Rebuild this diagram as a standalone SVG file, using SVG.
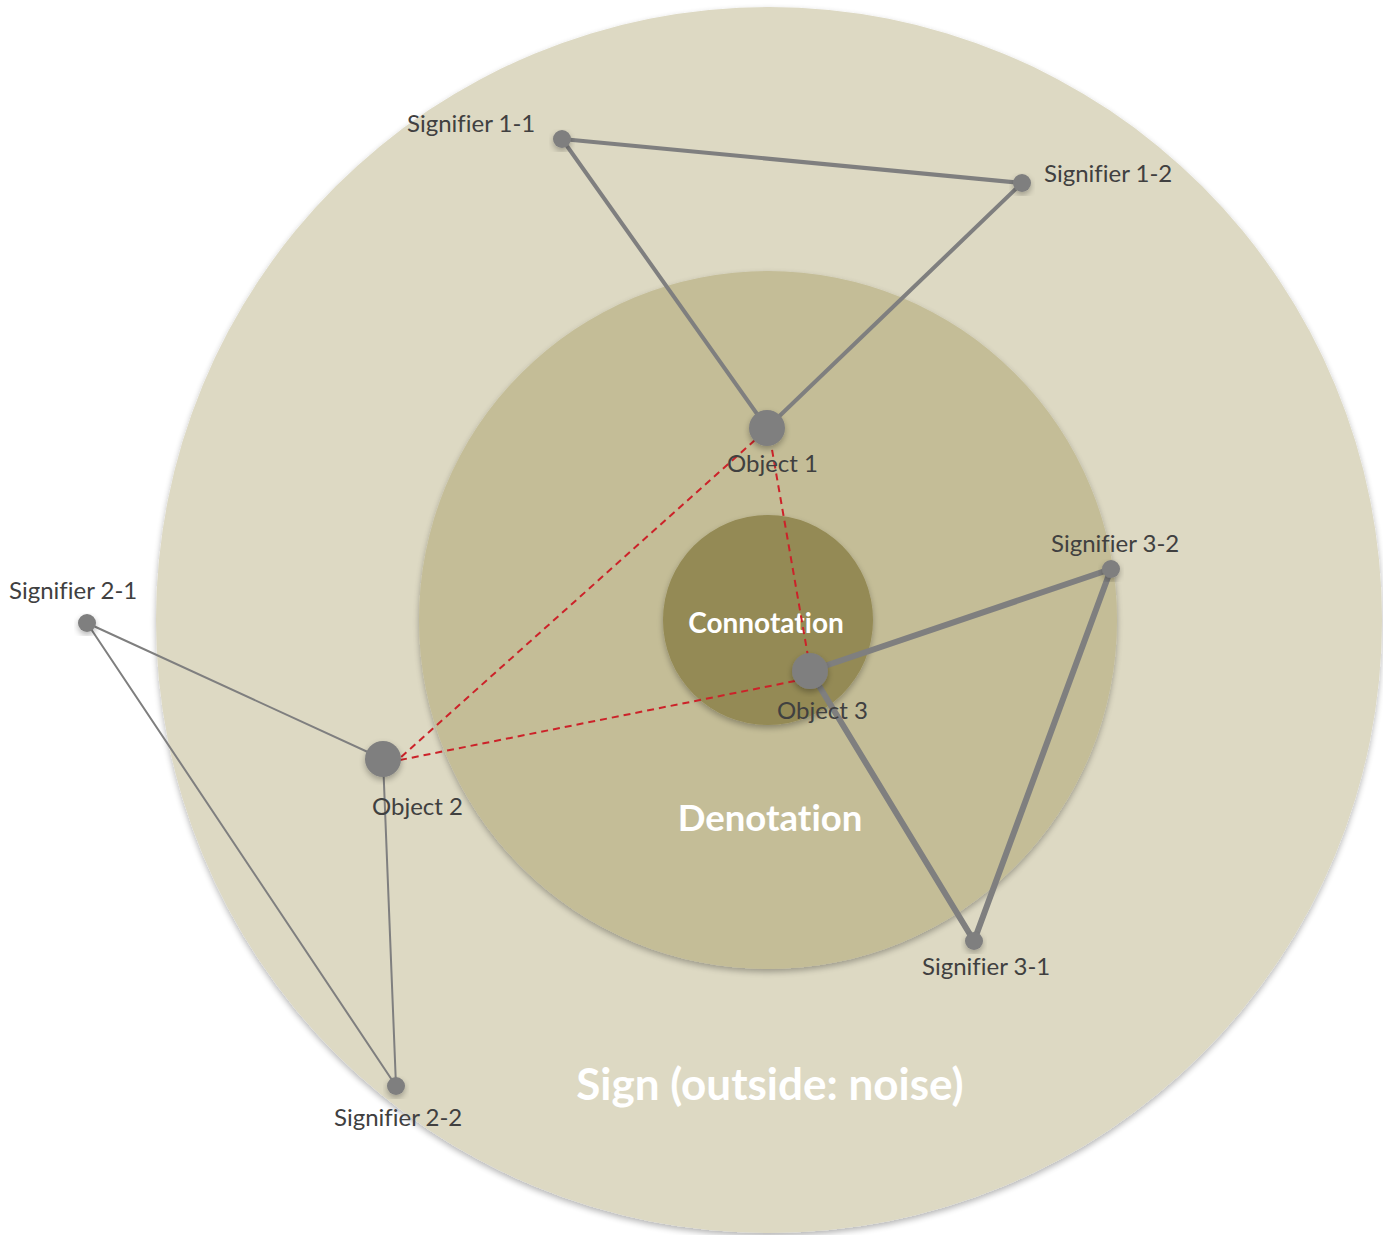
<svg xmlns="http://www.w3.org/2000/svg" width="1383" height="1235" viewBox="0 0 1383 1235">
<defs>
<filter id="sh" x="-20%" y="-20%" width="140%" height="140%">
<feGaussianBlur in="SourceAlpha" stdDeviation="3"/>
<feOffset dx="0" dy="3" result="b"/>
<feComponentTransfer><feFuncA type="linear" slope="0.3"/></feComponentTransfer>
<feMerge><feMergeNode/><feMergeNode in="SourceGraphic"/></feMerge>
</filter>
<style>
.lbl{font-family:Lato,"Open Sans","Liberation Sans",sans-serif;font-size:24px;fill:#404040;font-variant-ligatures:none}
.big{font-family:Lato,"Open Sans","Liberation Sans",sans-serif;font-weight:bold;fill:#ffffff;text-anchor:middle;font-variant-ligatures:none}
.dot{fill:#7f7f7f}
.e1{stroke:#7f7f7f;stroke-width:4;fill:none;stroke-linecap:round}
.e2{stroke:#7f7f7f;stroke-width:2;fill:none;stroke-linecap:round}
.e3{stroke:#7f7f7f;stroke-width:6;fill:none;stroke-linecap:round}
.rd{stroke:#cc2229;stroke-width:2;fill:none;stroke-dasharray:7,5}
</style>
</defs>
<rect width="1383" height="1235" fill="#ffffff"/>
<g id="circles">
<circle id="sign" cx="769" cy="620" r="613" fill="#ddd9c3" filter="url(#sh)"/>
<circle id="denotation" cx="768" cy="620" r="349" fill="#c4bd97" filter="url(#sh)"/>
<circle id="connotation" cx="768" cy="620" r="105" fill="#948a54" filter="url(#sh)"/>
<text class="big" x="770" y="1100" font-size="44">Sign (outside: noise)</text>
<text class="big" x="770" y="831" font-size="36.5">Denotation</text>
<text class="big" x="766" y="633" font-size="28">Connotation</text>
</g>
<g id="connectors">
<line class="e1" x1="562" y1="139" x2="1022" y2="183"/>
<line class="e1" x1="562" y1="139" x2="767" y2="428"/>
<line class="e1" x1="1022" y1="183" x2="767" y2="428"/>
<line class="e2" x1="87" y1="623" x2="383" y2="759"/>
<line class="e2" x1="87" y1="623" x2="396" y2="1086"/>
<line class="e2" x1="383" y1="759" x2="396" y2="1086"/>
<line class="e3" x1="810" y1="671" x2="1111" y2="569"/>
<line class="e3" x1="810" y1="671" x2="974" y2="941"/>
<line class="e3" x1="1111" y1="569" x2="974" y2="941"/>
<line class="rd" x1="755" y1="440" x2="400" y2="758"/>
<line class="rd" x1="770" y1="438" x2="809" y2="662"/>
<line class="rd" x1="400" y1="760" x2="795" y2="681"/>
</g>
<g id="signifier-1-1"><circle class="dot" cx="562" cy="139" r="9" filter="url(#sh)"/><text class="lbl" x="407" y="132">Signifier 1-1</text></g>
<g id="signifier-1-2"><circle class="dot" cx="1022" cy="183" r="9" filter="url(#sh)"/><text class="lbl" x="1044" y="182">Signifier 1-2</text></g>
<g id="object-1"><circle class="dot" cx="767" cy="428" r="18" filter="url(#sh)"/><text class="lbl" x="727" y="472">Object 1</text></g>
<g id="object-2"><circle class="dot" cx="383" cy="759" r="18" filter="url(#sh)"/><text class="lbl" x="372" y="815">Object 2</text></g>
<g id="object-3"><circle class="dot" cx="810" cy="671" r="18" filter="url(#sh)"/><text class="lbl" x="777" y="719">Object 3</text></g>
<g id="signifier-2-1"><circle class="dot" cx="87" cy="623" r="9" filter="url(#sh)"/><text class="lbl" x="9" y="599">Signifier 2-1</text></g>
<g id="signifier-2-2"><circle class="dot" cx="396" cy="1086" r="9" filter="url(#sh)"/><text class="lbl" x="334" y="1126">Signifier 2-2</text></g>
<g id="signifier-3-1"><circle class="dot" cx="974" cy="941" r="9" filter="url(#sh)"/><text class="lbl" x="922" y="975">Signifier 3-1</text></g>
<g id="signifier-3-2"><circle class="dot" cx="1111" cy="569" r="9" filter="url(#sh)"/><text class="lbl" x="1051" y="552">Signifier 3-2</text></g>
</svg>
